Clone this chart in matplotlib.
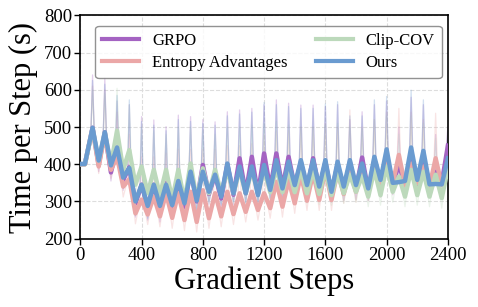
import numpy as np
import matplotlib
matplotlib.use("Agg")
import matplotlib.pyplot as plt

plt.rcParams['font.family'] = ['Liberation Serif', 'DejaVu Serif']

# ---------------- data ----------------
series_names = ["GRPO", "Entropy Advantages", "Clip-COV", "Ours"]
colors = {"GRPO": "#a463c2", "Entropy Advantages": "#eba7a7",
          "Clip-COV": "#bcd9bb", "Ours": "#6a9bd0"}

start_steps = [0, 30]
peak_steps = list(range(80, 2401, 80))      # 80 ... 2400
trough_steps = list(range(120, 2361, 80))   # 120 ... 2360

start_vals = {"GRPO": 400, "Entropy Advantages": 400, "Clip-COV": 400, "Ours": 401}

# smoothed peaks (at peak_steps)
smooth_peaks = {
    "GRPO": [498, 486, 445, 392, 345, 345, 350, 355, 385, 398, 372, 400, 416, 420, 429,
             429, 420, 405, 416, 405, 400, 405, 418, 410, 425, 400, 420, 420, 380, 450],
    "Entropy Advantages": [495, 480, 420, 360, 305, 313, 322, 322, 326, 330, 322, 326, 322, 326, 322,
                           353, 358, 371, 376, 385, 380, 385, 385, 394, 411, 425, 402, 394, 416, 402],
    "Clip-COV": [495, 485, 490, 438, 394, 385, 385, 385, 402, 389, 385, 385, 385, 385, 385,
                 390, 385, 385, 385, 385, 376, 372, 368, 385, 394, 367, 385, 380, 372, 390],
    "Ours": [498, 486, 445, 390, 345, 345, 345, 355, 380, 380, 372, 402, 394, 394, 398,
             411, 407, 411, 411, 411, 407, 411, 402, 420, 440, 352, 445, 436, 347, 416],
}
# smoothed troughs (at trough_steps)
smooth_troughs = {
    "GRPO": [398, 378, 358, 295, 286, 278, 286, 286, 300, 320, 308, 318, 322, 320, 335,
             338, 340, 335, 335, 325, 330, 333, 330, 340, 345, 345, 345, 345, 350],
    "Entropy Advantages": [394, 385, 340, 268, 265, 260, 256, 250, 245, 255, 260, 266, 272, 277, 282,
                           286, 295, 302, 304, 304, 320, 326, 331, 340, 349, 344, 349, 340, 344],
    "Clip-COV": [410, 400, 385, 345, 322, 317, 304, 300, 304, 322, 322, 322, 322, 322, 325,
                 325, 325, 322, 320, 317, 322, 326, 313, 317, 326, 313, 317, 313, 309],
    "Ours": [410, 397, 364, 300, 288, 288, 290, 295, 302, 326, 313, 322, 322, 317, 331,
             335, 344, 344, 340, 326, 340, 344, 335, 358, 350, 355, 358, 346, 346],
}
# raw spike maxima (at peak_steps)
raw_peaks = {
    "GRPO": [640, 631, 570, 560, 528, 519, 501, 532, 528, 520, 514, 541, 546, 550, 560,
             573, 564, 559, 559, 555, 560, 520, 541, 560, 570, 500, 580, 560, 480, 501],
    "Entropy Advantages": [610, 600, 540, 480, 420, 420, 430, 440, 440, 440, 440, 450, 450, 455, 480,
                           490, 490, 500, 500, 510, 500, 546, 500, 520, 540, 550, 540, 520, 537, 480],
    "Clip-COV": [600, 590, 604, 560, 500, 490, 480, 500, 500, 490, 480, 500, 500, 505, 510,
                 515, 505, 500, 500, 505, 510, 500, 495, 520, 530, 480, 530, 510, 470, 470],
    "Ours": [625, 615, 585, 573, 515, 505, 490, 520, 515, 510, 505, 530, 535, 540, 566,
             560, 555, 550, 550, 562, 568, 530, 530, 573, 582, 420, 599, 573, 420, 490],
}
# raw lows (at trough_steps)
raw_lows = {
    "GRPO": [380, 355, 330, 258, 250, 245, 252, 255, 268, 292, 282, 292, 295, 292, 308,
             310, 312, 308, 308, 298, 302, 305, 302, 312, 318, 318, 318, 318, 322],
    "Entropy Advantages": [375, 362, 312, 240, 238, 232, 228, 222, 218, 228, 232, 238, 245, 250, 255,
                           258, 268, 276, 276, 276, 295, 298, 302, 312, 320, 316, 320, 312, 316],
    "Clip-COV": [392, 378, 358, 318, 295, 290, 278, 272, 276, 295, 295, 295, 295, 295, 298,
                 298, 298, 295, 292, 290, 295, 298, 286, 290, 298, 286, 290, 286, 282],
    "Ours": [392, 375, 335, 262, 255, 258, 262, 268, 275, 300, 290, 300, 298, 295, 308,
             312, 320, 322, 318, 300, 318, 322, 312, 332, 330, 335, 335, 325, 325],
}

x_ticks = [0, 400, 800, 1200, 1600, 2000, 2400]
y_ticks = [200, 300, 400, 500, 600, 700, 800]


def smooth_curve(name):
    xs = list(start_steps)
    ys = [start_vals[name]] * len(start_steps)
    for k, ps in enumerate(peak_steps):
        xs.append(ps)
        ys.append(smooth_peaks[name][k])
        if k < len(trough_steps):
            xs.append(trough_steps[k])
            ys.append(smooth_troughs[name][k])
    return xs, ys


def raw_curve(name):
    xs = list(start_steps)
    ys = [start_vals[name]] * len(start_steps)
    for k, ps in enumerate(peak_steps):
        xs += [ps - 10, ps, ps + 10]
        ys += [smooth_peaks[name][k], raw_peaks[name][k], smooth_peaks[name][k]]
        if k < len(trough_steps):
            xs.append(trough_steps[k])
            ys.append(raw_lows[name][k])
    return xs, ys


# ---------------- plot ----------------
fig = plt.figure(figsize=(4.78, 3.07), dpi=100)
ax = fig.add_axes([0.168, 0.2225, 0.769, 0.7275])

for name in series_names:
    xs, ys = raw_curve(name)
    ax.plot(xs, ys, color=colors[name], lw=0.9, alpha=0.3, zorder=1)

order = ["GRPO", "Entropy Advantages", "Clip-COV", "Ours"]
for name in order:
    xs, ys = smooth_curve(name)
    ax.plot(xs, ys, color=colors[name], lw=3.2, zorder=3, label=name,
            solid_joinstyle='round')

ax.set_xlim(0, 2400)
ax.set_ylim(200, 800)
ax.set_xticks(x_ticks)
ax.set_yticks(y_ticks)
ax.tick_params(axis='both', labelsize=13.5, direction='out', length=4, width=1,
               pad=2)
ax.grid(True, linestyle='--', color='#dddddd', lw=0.8, zorder=0)
ax.set_axisbelow(True)
for sp in ax.spines.values():
    sp.set_linewidth(1.2)
    sp.set_color('black')

ax.set_xlabel("Gradient Steps", fontsize=22, labelpad=2)
ax.set_ylabel("Time per Step (s)", fontsize=22, labelpad=4)

leg = ax.legend(ncol=2, loc='upper center', bbox_to_anchor=(0.512, 0.99),
                fontsize=12, handlelength=2.2, columnspacing=1.7,
                frameon=True, fancybox=True, edgecolor='#777777',
                borderpad=0.4, labelspacing=0.4, handletextpad=0.8)
for line in leg.get_lines():
    line.set_linewidth(3)

fig.savefig("out.png", dpi=100)
